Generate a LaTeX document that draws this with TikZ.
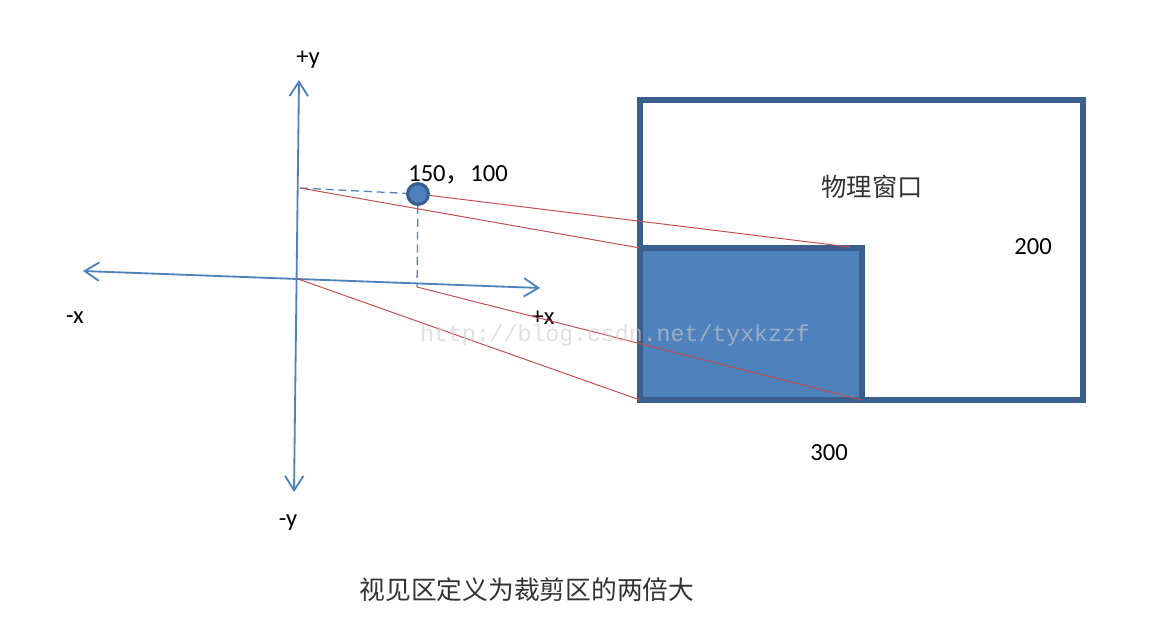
\documentclass[tikz,border=0pt]{standalone}
\usepackage{fontspec}
\setmainfont{Carlito}
\newfontfamily\cjk{Noto Sans CJK SC}
\newfontfamily\wmfont{Liberation Mono}
\usetikzlibrary{positioning, arrows.meta}
\definecolor{axisblue}{HTML}{4F81BD}
\definecolor{edgeblue}{HTML}{3B5F8C}
\definecolor{linered}{HTML}{C0504D}
\definecolor{markgray}{HTML}{CCCCCC}

\begin{document}
\begin{tikzpicture}[
        x=0.025cm, y=-0.025cm,
        axis/.style={draw=axisblue, line width=1.3pt, {Straight Barb[length=3.6mm, width=4.6mm, line width=1.3pt]}-{Straight Barb[length=3.6mm, width=4.6mm, line width=1.3pt]}},
        guide/.style={draw=axisblue, line width=0.9pt, dash pattern=on 2mm off 1.2mm},
        proj/.style={draw=linered, line width=0.7pt},
        win/.style={draw=edgeblue, line width=4pt},
        lbl/.style={font=\fontsize{17.5}{20}\selectfont},
        zh/.style={font=\cjk\fontsize{18}{22}\selectfont, text=black!80},
    ]
        \useasboundingbox (0,0) rectangle (1176,637);
        % Axes
        \coordinate (O) at (298,279);
        \coordinate (xneg) at (83,271);
        \coordinate (xpos) at (540,288);
        \coordinate (ypos) at (299,80);
        \coordinate (yneg) at (294,492);
        \draw[axis] (xneg) -- (xpos);
        \draw[axis] (ypos) -- (yneg);
        \node[lbl] (lyp) at (308,60) {+y};
        \node[lbl] (lyn) at (288,523) {-y};
        \node[lbl] (lxn) at (75,318) {-x};
        \node[lbl] (lxp) at (543,318) {+x};

        % Windows
        \coordinate (bigNW) at (640,100);
        \coordinate (bigSE) at (1083,400);
        \coordinate (smallNW) at (640,248);
        \coordinate (smallNE) at (850,247);
        \coordinate (smallSW) at (640,400);
        \coordinate (smallSE) at (862,400);
        \draw[win] (bigNW) rectangle (bigSE);
        \filldraw[win, fill=axisblue] (smallNW) rectangle (smallSE |- smallSW);
        \draw[win] (smallSW) -- (smallSE);
        \node[zh] (phys) at (872,187) {物理窗口};
        \node[lbl] (w200) at (1033,247) {200};
        \node[lbl] (w300) at (829,453) {300};

        % Point and its projections
        \coordinate (yq) at (300,188);
        \coordinate (xq) at (417,287);
        \node[circle, fill=axisblue, draw=edgeblue, line width=2.2pt, minimum size=0.52cm, inner sep=0pt] (pt) at (418,194) {};
        \node[lbl] (ptlbl) at (458,175) {150{\cjk ，}100};
        \draw[guide] (yq) -- (pt);
        \draw[guide] (pt) -- (xq);

        % Mapping lines
        \draw[proj] (pt) -- (smallNE);
        \draw[proj] (yq) -- (smallNW);
        \draw[proj] (O) -- (smallSW);
        \draw[proj] (xq) -- (smallSE);

        % Caption
        \node[zh, font=\cjk\fontsize{18.3}{22}\selectfont] (caption) at (527,590) {视见区定义为裁剪区的两倍大};
        \node[font=\wmfont\fontsize{16.5}{20}\selectfont, text=markgray, text opacity=0.6] (mark) at (615,335) {http://blog.csdn.net/tyxkzzf};
    \end{tikzpicture}
\end{document}
